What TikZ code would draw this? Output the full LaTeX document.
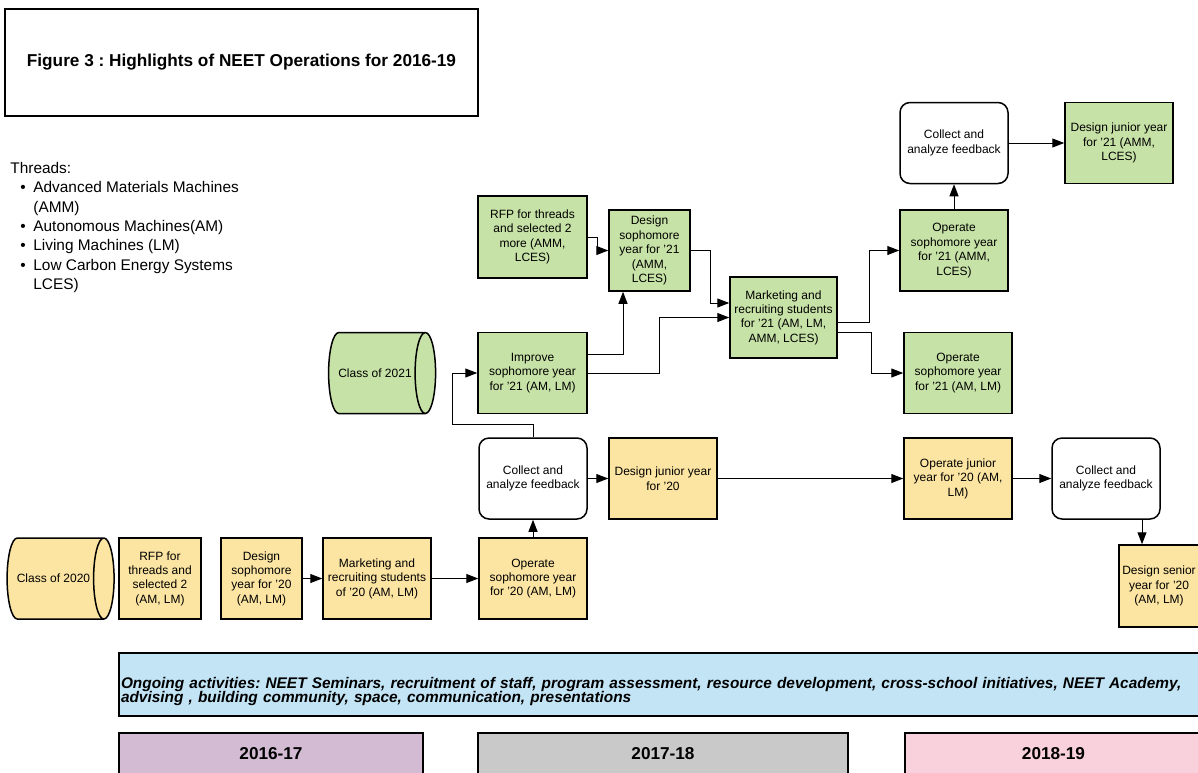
\documentclass[tikz,border=0pt]{standalone}
\usepackage{fontspec}
\setmainfont{Liberation Sans}
\usepackage{tikz}
\usetikzlibrary{arrows.meta,shapes.geometric}
\usepackage{xcolor}
\definecolor{boxgreen}{RGB}{199,226,166}
\definecolor{boxyellow}{RGB}{252,229,162}
\definecolor{ongoingblue}{RGB}{194,228,245}
\definecolor{yearone}{RGB}{211,188,211}
\definecolor{yeartwo}{RGB}{201,201,201}
\definecolor{yearthree}{RGB}{249,209,221}
\newcommand{\threaditem}{\makebox[11.5pt][l]{\hspace{5pt}\textbullet}}

\begin{document}
\frenchspacing
\begin{tikzpicture}[x=0.5pt,y=-0.5pt,>={Triangle[length=6pt,width=4.5pt]},
  every node/.style={font=\fontsize{6}{7.2}\selectfont,align=center},
  box/.style={draw,line width=0.75pt,minimum width=54pt,minimum height=40.5pt,inner sep=1pt},
  greenbox/.style={box,fill=boxgreen},
  yellowbox/.style={box,fill=boxyellow},
  feedback/.style={box,rounded corners=5pt,fill=white},
  drum/.style={cylinder,draw,line width=0.75pt,aspect=1.6,minimum width=40.5pt,minimum height=53.5pt,inner sep=1pt},
  link/.style={->,line width=0.5pt},
  yearbar/.style={draw,line width=0.75pt,minimum height=21pt,font=\fontsize{8.6}{10}\selectfont\bfseries}]
\useasboundingbox (0,0) rectangle (1198,772);
\clip (0,0) rectangle (1198,772);
\fill[white] (0,0) rectangle (1198,772);

\node[draw,line width=0.75pt,minimum height=53.5pt,minimum width=236.5pt,font=\fontsize{8.6}{10}\selectfont\bfseries] (title) at (241.5,62.5) {Figure 3 : Highlights of NEET Operations for 2016-19};
\node[anchor=north west,align=left,inner sep=0pt,font=\fontsize{7.7}{9.65}\selectfont] (threads) at (10,162) {Threads:\\
\threaditem Advanced Materials Machines\\
\hspace*{11.5pt}(AMM)\\
\threaditem Autonomous Machines(AM)\\
\threaditem Living Machines (LM)\\
\threaditem Low Carbon Energy Systems\\
\hspace*{11.5pt}LCES)};

\node[drum,fill=boxgreen] (c21) at (375,373) {Class of 2021};
\node[greenbox,minimum width=54.5pt] (imp21) at (532.5,373) {Improve\\sophomore year\\for '21 (AM, LM)};
\node[greenbox,minimum width=54.5pt,minimum height=41pt] (rfp21) at (532.5,237) {RFP for threads\\and selected 2\\more (AMM,\\LCES)};
\node[greenbox,minimum width=40.5pt] (des21) at (649.5,250.5) {Design\\sophomore\\year for '21\\(AMM,\\LCES)};
\node[greenbox,minimum width=53.5pt] (mkt21) at (783.5,317.5) {Marketing and\\recruiting students\\for '21 (AM, LM,\\AMM, LCES)};
\node[greenbox] (opA21) at (954,250.5) {Operate\\sophomore year\\for '21 (AMM,\\LCES)};
\node[greenbox] (opB21) at (958,373) {Operate\\sophomore year\\for '21 (AM, LM)};
\node[feedback] (fb21) at (954,143) {Collect and\\analyze feedback};
\node[greenbox] (jun21) at (1119,143) {Design junior year\\for '21 (AMM,\\LCES)};

\node[drum,fill=boxyellow] (c20) at (53.5,578.5) {Class of 2020};
\node[yellowbox,minimum width=41pt] (rfp20) at (160,578.5) {RFP for\\threads and\\selected 2\\(AM, LM)};
\node[yellowbox,minimum width=40.5pt] (des20) at (261.5,578.5) {Design\\sophomore\\year for '20\\(AM, LM)};
\node[yellowbox] (mkt20) at (377,578.5) {Marketing and\\recruiting students\\of '20 (AM, LM)};
\node[yellowbox] (op20) at (533,578.5) {Operate\\sophomore year\\for '20 (AM, LM)};
\node[feedback] (fb20) at (533,478.5) {Collect and\\analyze feedback};
\node[yellowbox] (jun20) at (663,478.5) {Design junior year\\for '20};
\node[yellowbox] (opj20) at (958,478.5) {Operate junior\\year for '20 (AM,\\LM)};
\node[feedback] (fb20b) at (1106,478.5) {Collect and\\analyze feedback};
\node[yellowbox,minimum width=40pt,minimum height=41pt] (sen20) at (1159,586) {Design senior\\year for '20\\(AM, LM)};

\draw[link] (des20.east) -- (mkt20.west);
\draw[link] (mkt20.east) -- (op20.west);
\draw[link] (op20.north) -- (fb20.south);
\draw[link] (fb20.east) -- (jun20.west);
\draw[link] (jun20.east) -- (opj20.west);
\draw[link] (opj20.east) -- (fb20b.west);
\draw[link] ([xshift=18pt]fb20b.south) -- ([xshift=18pt]fb20b.south |- sen20.north);
\draw[link] (fb20.north) -- ++(0,-13) -| ([xshift=-12.5pt]imp21.west) -- (imp21.west);
\draw[link] (rfp21.east) -- ++(10,0) |- (des21.west);
\draw[link] ([yshift=9.5pt]imp21.east) -| ([xshift=-13.25pt]des21.south);
\draw[link] (imp21.east) -- ++(72,0) |- (mkt21.west);
\draw[link] (des21.east) -- ++(20,0) |- ([yshift=7.25pt]mkt21.west);
\draw[link] ([yshift=-2.25pt]mkt21.east) -- ++(32,0) |- (opA21.west);
\draw[link] ([yshift=-7.25pt]mkt21.east) -- ++(34,0) |- (opB21.west);
\draw[link] (opA21.north) -- (fb21.south);
\draw[link] (fb21.east) -- (jun21.west);

\node[draw,line width=0.75pt,fill=ongoingblue,minimum height=31.5pt,text width=539.5pt,inner xsep=1pt,align=left,font=\fontsize{7.7}{7.4}\selectfont\bfseries\itshape] (ongoing) at (660.5,684.5) {\rule{0pt}{12.5pt}Ongoing activities: NEET Seminars, recruitment of staff, program assessment, resource development, cross-school initiatives, NEET Academy,\\advising , building community, space, communication, presentations};
\node[yearbar,fill=yearone,minimum width=152pt] (y1617) at (271,754) {2016-17};
\node[yearbar,fill=yeartwo,minimum width=185pt] (y1718) at (663,754) {2017-18};
\node[yearbar,fill=yearthree,minimum width=148.5pt] (y1819) at (1053.5,754) {2018-19};
\end{tikzpicture}
\end{document}
